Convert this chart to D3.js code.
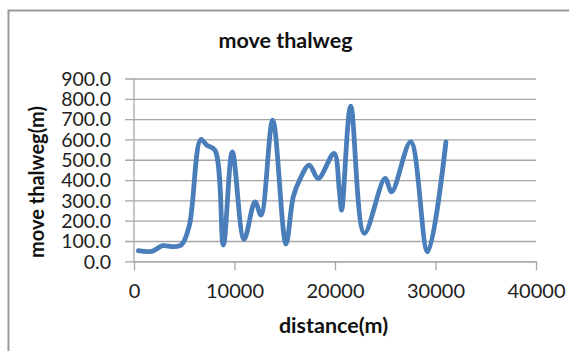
<!DOCTYPE html>
<html>
<head>
<meta charset="utf-8">
<script src="https://cdn.jsdelivr.net/npm/d3@7"></script>
<style>
  html, body { margin: 0; padding: 0; background: #fff; }
  svg { display: block; }
  text { font-family: Lato, "Open Sans", sans-serif; }
</style>
</head>
<body>
<svg id="chart" width="569" height="351"></svg>
<script>
// Thalweg shift (m) along the river distance (m)
const distance = [430, 1760, 2850, 3910, 4740, 5500, 6650, 7230, 8060, 8890,
  9780, 10950, 12040, 12640, 13800, 15120, 15850, 16520, 17440, 18340,
  19900, 20430, 20660, 21560, 22920, 24980, 25640, 27530, 29220, 31040];
const moveThalweg = [52, 49, 77, 72, 82, 175, 600, 572, 547, 80,
  539, 108, 293, 228, 695, 85, 318, 405, 474, 408,
  531, 350, 252, 764, 138, 408, 342, 588, 47, 588];
const xTicks = [0, 10000, 20000, 30000, 40000];
const yTicks = [0, 100, 200, 300, 400, 500, 600, 700, 800, 900];

const svg = d3.select("#chart");
const plotLeft = 134, plotRight = 536, plotTop = 78.5, plotBottom = 261.3;

const x = d3.scaleLinear().domain([0, 40000]).range([plotLeft, plotRight]);
const y = d3.scaleLinear().domain([0, 900]).range([plotBottom, plotTop]);

// chart area frame
svg.append("path")
  .attr("d", "M8.5,351 V10.5 H569")
  .attr("fill", "none").attr("stroke", "#9a9a9a").attr("stroke-width", 2);

// horizontal gridlines with ticks on the left
const yAxis = d3.axisLeft(y).tickValues(yTicks)
  .tickSizeInner(-(plotRight - plotLeft)).tickSizeOuter(0).tickPadding(0)
  .tickFormat(d3.format(".1f"));
const gy = svg.append("g").attr("transform", `translate(${plotLeft},0)`).call(yAxis);
gy.select(".domain").remove();
gy.selectAll(".tick line").attr("stroke", "#a6a6a6").attr("stroke-width", 1.3)
  .attr("x1", -9);
gy.selectAll(".tick text").attr("x", -23).attr("dy", "0.35em")
  .attr("font-size", 19.5).attr("fill", "#222");
svg.append("line").attr("x1", plotLeft).attr("x2", plotLeft).attr("y1", plotTop).attr("y2", plotBottom)
  .attr("stroke", "#a6a6a6").attr("stroke-width", 1.3);

// x axis
const xAxis = d3.axisBottom(x).tickValues(xTicks).tickSizeInner(9).tickSizeOuter(0)
  .tickPadding(0).tickFormat(d3.format("d"));
const gx = svg.append("g").attr("transform", `translate(0,${plotBottom})`).call(xAxis);
gx.select(".domain").attr("stroke", "#a6a6a6").attr("stroke-width", 1.3);
gx.selectAll(".tick line").attr("stroke", "#a6a6a6").attr("stroke-width", 1.3);
gx.selectAll(".tick text").attr("y", 37).attr("dy", 0)
  .attr("font-size", 20).attr("fill", "#222");

// smoothed series
const pts = distance.map((d, i) => [d, moveThalweg[i]]);
const line = d3.line().x(d => x(d[0])).y(d => y(d[1])).curve(d3.curveCatmullRom.alpha(0.5));
svg.append("path").datum(pts).attr("d", line)
  .attr("fill", "none").attr("stroke", "#4a7ebb").attr("stroke-width", 4.8)
  .attr("stroke-linejoin", "round").attr("stroke-linecap", "round");

// titles
svg.append("text").attr("x", 285.5).attr("y", 47.5).attr("text-anchor", "middle")
  .attr("font-size", 21.5).attr("font-weight", "bold").attr("fill", "#111").text("move thalweg");
svg.append("text").attr("x", 333.5).attr("y", 333).attr("text-anchor", "middle")
  .attr("font-size", 21.5).attr("font-weight", "bold").attr("fill", "#111").text("distance(m)");
svg.append("text").attr("transform", "translate(44,182) rotate(-90)").attr("text-anchor", "middle")
  .attr("font-size", 20).attr("font-weight", "bold").attr("fill", "#111").text("move thalweg(m)");
</script>
</body>
</html>
